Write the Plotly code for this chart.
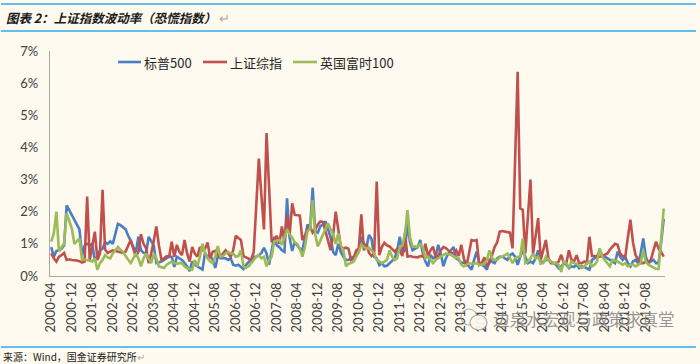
import plotly.graph_objects as go

# ---------------- data (monthly, 2000-04 .. 2020-03), values in % ----------------
start_year, start_month, n_months = 2000, 4, 240

sp500 = [
    0.90,0.60,0.78,0.80,0.85,0.95,2.20,2.05,1.90,1.75,1.60,1.45,
    0.65,0.95,1.00,0.95,1.00,0.45,0.62,0.80,0.85,1.05,1.00,1.08,
    1.00,1.30,1.62,1.58,1.52,1.45,1.25,1.10,0.90,0.75,1.22,0.80,
    0.72,0.70,1.22,1.10,0.95,0.40,0.42,0.45,0.50,0.55,0.60,0.60,
    0.28,0.60,0.55,0.50,0.40,0.30,0.15,0.45,0.35,0.30,0.25,0.20,
    0.72,0.60,0.65,0.50,0.25,0.62,0.55,0.55,0.55,0.50,0.55,0.35,
    0.32,0.35,0.28,0.22,0.35,0.45,0.52,0.60,0.60,0.65,0.72,0.88,
    0.70,0.35,0.80,1.22,0.95,0.90,0.80,0.75,2.42,1.20,0.78,1.05,
    0.95,0.85,0.80,1.25,1.60,1.50,2.75,1.40,1.35,1.55,1.60,1.70,
    1.45,1.20,0.75,0.65,1.00,0.75,0.60,0.50,0.50,0.55,0.60,0.70,
    0.75,1.22,1.00,0.90,1.28,1.15,0.60,0.55,0.34,0.40,0.30,0.32,
    0.40,0.50,0.55,0.80,1.22,0.70,0.80,1.64,1.05,0.80,0.85,0.90,
    1.12,0.70,0.45,0.30,0.65,0.55,0.60,0.97,0.70,0.30,0.55,0.70,
    0.80,0.90,0.55,0.50,0.40,0.42,0.40,0.30,0.20,0.50,0.76,0.40,
    0.35,0.30,0.20,0.50,0.45,0.40,0.55,0.60,0.60,0.55,0.50,0.65,
    0.70,0.60,0.35,0.60,0.80,0.60,0.40,0.45,0.40,0.55,0.80,0.40,
    0.45,0.50,0.50,0.45,0.40,0.35,0.24,0.30,0.40,0.35,0.24,0.30,
    0.28,0.35,0.24,0.30,0.28,0.25,0.20,0.50,0.55,0.60,0.80,0.65,
    0.60,0.55,0.50,0.45,0.40,0.76,0.60,0.50,0.60,0.40,0.30,0.45,
    0.50,0.40,0.70,1.17,0.60,0.40,0.45,0.50,0.40,0.40,1.05,1.78,
]

sse = [
    0.70,0.55,0.45,0.60,0.65,0.72,0.50,0.52,0.50,0.50,0.48,0.46,
    0.42,0.45,2.47,0.50,0.95,1.38,0.50,0.70,2.68,0.82,0.72,0.76,
    0.80,0.78,0.76,0.75,0.72,0.76,0.95,1.12,0.85,0.60,0.75,1.30,
    1.00,0.86,0.40,0.70,1.10,1.54,0.95,0.50,0.55,0.62,0.60,1.07,
    0.60,0.97,0.75,0.65,1.12,0.70,0.45,0.90,0.70,0.60,0.90,0.80,
    0.85,1.04,0.55,0.75,0.78,0.65,0.60,0.70,0.80,0.70,0.60,0.80,
    1.25,1.18,1.12,0.62,0.58,0.55,0.50,0.75,2.20,3.65,2.50,1.45,
    4.45,2.60,1.05,1.15,1.25,1.00,1.54,1.05,1.90,1.25,2.26,1.90,
    1.90,1.88,1.12,1.25,1.40,1.54,1.35,1.45,1.60,1.70,1.68,1.35,
    1.10,0.80,1.30,2.00,1.43,0.90,0.86,0.88,0.85,0.50,0.55,0.80,
    0.85,1.92,0.80,1.00,0.72,0.62,0.70,2.94,0.65,0.90,1.03,0.95,
    0.92,0.85,0.76,0.85,0.80,0.62,1.34,0.60,0.62,0.60,0.60,0.58,
    0.62,0.60,1.00,0.62,0.80,0.91,0.58,0.62,0.80,0.90,0.87,0.78,
    0.72,0.70,0.80,0.62,0.97,0.55,0.30,0.70,1.12,1.10,1.12,0.35,
    0.40,0.58,0.30,0.40,0.62,0.90,1.05,1.38,1.40,1.38,1.38,1.35,
    0.86,3.60,6.35,2.10,2.06,0.70,1.85,3.00,0.70,1.25,1.80,0.50,
    0.80,1.12,0.55,0.40,0.40,0.40,0.45,0.66,0.40,0.40,0.80,0.50,
    0.45,0.65,0.40,0.40,0.45,0.40,1.22,0.62,0.62,0.60,0.60,0.62,
    0.65,0.70,0.82,0.90,1.00,0.97,0.70,0.62,0.60,1.20,1.75,1.05,
    0.65,0.50,0.40,0.40,0.45,0.45,0.50,0.80,1.07,0.85,0.75,0.60,
]

ftse100 = [
    1.07,1.33,2.00,0.76,0.90,1.00,1.95,1.70,1.48,1.00,1.10,1.17,
    0.50,0.52,0.50,0.48,0.45,0.55,0.19,0.40,0.50,0.65,0.58,0.55,
    0.70,0.80,0.90,0.82,0.75,0.62,0.50,0.40,0.55,0.70,0.55,0.30,
    0.55,0.70,0.55,0.40,0.70,0.55,0.30,0.28,0.25,0.35,0.40,0.45,
    0.40,0.38,0.40,0.40,0.30,0.24,0.22,0.20,0.50,0.30,0.60,1.00,
    0.72,0.55,0.45,0.40,0.60,0.93,0.60,0.62,0.70,0.75,0.70,0.70,
    0.60,0.62,0.80,0.30,0.25,0.30,0.40,0.50,0.60,0.65,0.55,0.60,
    0.30,0.50,0.60,1.07,1.10,1.12,0.97,1.20,1.45,1.30,1.20,1.05,
    1.00,0.85,0.60,0.90,1.40,1.45,2.35,1.30,0.92,1.10,1.30,1.50,
    1.64,1.45,1.30,1.00,1.33,0.95,0.80,0.30,0.38,0.40,0.45,0.60,
    0.75,0.97,0.92,0.85,0.88,0.80,0.70,0.50,0.45,0.40,0.45,0.50,
    0.80,0.60,0.50,0.55,0.90,0.95,1.30,2.05,1.20,0.91,0.92,0.90,
    1.00,0.90,0.55,0.60,0.50,0.40,0.50,0.55,0.60,0.65,0.70,0.68,
    0.66,0.60,0.58,0.55,0.35,0.30,0.35,0.40,0.38,0.40,0.40,0.35,
    0.35,0.38,0.50,0.80,0.55,0.50,0.50,0.58,0.60,0.65,0.70,0.55,
    0.40,0.55,0.60,0.60,1.17,0.40,0.45,0.55,0.70,0.55,0.60,0.40,
    0.40,0.60,0.50,0.45,0.40,0.40,0.35,0.13,0.45,0.40,0.25,0.45,
    0.40,0.38,0.30,0.25,0.28,0.40,0.45,0.30,0.35,0.45,0.86,0.60,
    0.50,0.40,0.30,0.50,0.48,0.45,0.40,0.35,0.40,0.30,0.35,0.35,
    0.30,0.35,0.40,0.80,0.45,0.35,0.30,0.25,0.22,0.22,1.10,2.10,
]

series_names = ["标普500", "上证综指", "英国富时100"]
series_colors = ["#4A7EC4", "#C0504D", "#9BBB59"]

tick_labels = [
    "2000-04","2000-12","2001-08","2002-04","2002-12","2003-08","2004-04","2004-12",
    "2005-08","2006-04","2006-12","2007-08","2008-04","2008-12","2009-08","2010-04",
    "2010-12","2011-08","2012-04","2012-12","2013-08","2014-04","2014-12","2015-08",
    "2016-04","2016-12","2017-08","2018-04","2018-12","2019-08",
]
y_ticks = [0, 1, 2, 3, 4, 5, 6, 7]

title_text = "图表 2：上证指数波动率（恐慌指数）"
source_text = "来源：Wind，国金证券研究所"
watermark_text = "边泉水宏观与政策求真堂"

# month category labels
months = []
y, m = start_year, start_month
for _ in range(n_months):
    months.append(f"{y}-{m:02d}")
    m += 1
    if m > 12:
        m = 1
        y += 1

# ---------------- figure ----------------
W, H = 700, 364
L, R, T, B = 50, 35, 51, 88
BG = "#FFFAF0"

def px_x(px):
    return (px - L) / (W - L - R)

def px_y(py):
    return (H - B - py) / (H - T - B)

fig = go.Figure()
for name, vals, col in zip(series_names, [sp500, sse, ftse100], series_colors):
    fig.add_trace(go.Scatter(x=months, y=vals, mode="lines", name=name,
                             line=dict(color=col, width=2.6), showlegend=False))

fig.update_layout(
    width=W, height=H,
    margin=dict(l=L, r=R, t=T, b=B, pad=0),
    paper_bgcolor=BG, plot_bgcolor=BG,
    font=dict(family="Lato, 'Noto Sans CJK SC', sans-serif", color="#404040"),
)
fig.update_xaxes(
    type="category", range=[-0.5, n_months - 0.5],
    tickmode="array", tickvals=tick_labels, ticktext=tick_labels,
    tickangle=-90, tickfont=dict(size=13, color="#404040", family="Lato"),
    showline=True, linecolor="#A6A6A6", linewidth=1.2,
    showgrid=False, zeroline=False, ticks="", ticklen=0,
)
fig.update_yaxes(
    range=[0, 7], tickmode="array", tickvals=y_ticks,
    ticktext=[f"{v}%" for v in y_ticks],
    tickfont=dict(size=13, color="#404040", family="Lato"),
    showline=True, linecolor="#A6A6A6", linewidth=1.2,
    showgrid=False, zeroline=False, ticks="", ticklabelstandoff=8,
)

shapes = []
annotations = []

# horizontal blue frame lines
for py in (4, 31, 347):
    shapes.append(dict(type="line", xref="paper", yref="paper",
                       x0=px_x(1), x1=px_x(696), y0=px_y(py), y1=px_y(py),
                       line=dict(color="#62BEEB", width=2)))

# title
annotations.append(dict(
    xref="paper", yref="paper", x=px_x(4), y=px_y(18), xanchor="left", yanchor="middle",
    text=f"<b><i>{title_text}</i></b><span style='color:#AAAAAA'> ↵</span>",
    showarrow=False, font=dict(size=12.5, color="#1A1A1A", family="Noto Sans CJK SC")))

# source
annotations.append(dict(
    xref="paper", yref="paper", x=px_x(1), y=px_y(356), xanchor="left", yanchor="middle",
    text=f"{source_text}<span style='color:#AAAAAA'>↵</span>",
    showarrow=False, font=dict(size=10, color="#1A1A1A", family="Noto Sans CJK SC")))

# custom legend
legend_x = [(118, 141), (203, 227), (293, 317)]
legend_y = 62
for (x0, x1), name, col in zip(legend_x, series_names, series_colors):
    shapes.append(dict(type="line", xref="paper", yref="paper",
                       x0=px_x(x0), x1=px_x(x1), y0=px_y(legend_y), y1=px_y(legend_y),
                       line=dict(color=col, width=2.6)))
    annotations.append(dict(xref="paper", yref="paper", x=px_x(x1 + 1), y=px_y(legend_y),
                            xanchor="left", yanchor="middle", text=name, showarrow=False,
                            font=dict(size=13, color="#262626", family="Noto Sans CJK SC")))

# watermark (wechat-like icon + text)
shapes.append(dict(type="circle", xref="paper", yref="paper",
                   x0=px_x(461), x1=px_x(477), y0=px_y(325), y1=px_y(309),
                   line=dict(color="rgba(150,150,150,0.8)", width=1.2)))
shapes.append(dict(type="circle", xref="paper", yref="paper",
                   x0=px_x(470), x1=px_x(487), y0=px_y(330), y1=px_y(315),
                   line=dict(color="rgba(150,150,150,0.8)", width=1.2),
                   fillcolor="rgba(255,250,240,0.9)"))
annotations.append(dict(xref="paper", yref="paper", x=px_x(491), y=px_y(319),
                        xanchor="left", yanchor="middle", text=watermark_text, showarrow=False,
                        font=dict(size=16.5, color="rgba(130,130,130,0.85)",
                                  family="Noto Sans CJK SC")))

fig.update_layout(shapes=shapes, annotations=annotations)
fig.write_html(
    "out.html",
    config={"displayModeBar": False, "staticPlot": True},
    post_script="document.body.style.margin='0';document.body.style.padding='0';"
                "document.body.style.overflow='hidden';"
                "document.body.style.background='#FFFAF0';",
)
